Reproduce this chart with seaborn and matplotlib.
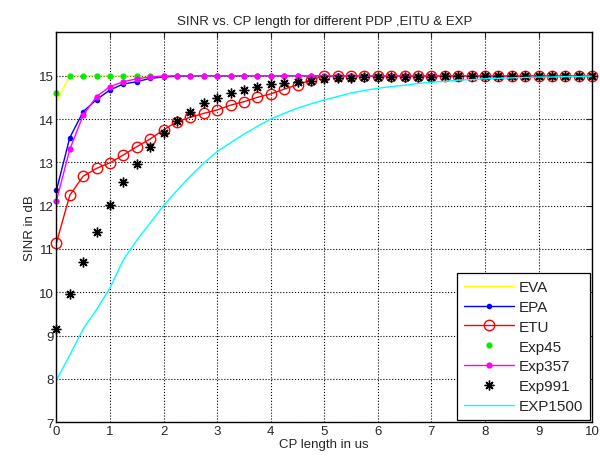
import numpy as np
import pandas as pd
import matplotlib
matplotlib.use("Agg")
import matplotlib.pyplot as plt
import seaborn as sns

# CP length grid (us)
cp = np.arange(0, 10.01, 0.25)

# SINR values (dB)
eva = [14.4] + [15.0] * 40
epa = [12.35, 13.57, 14.17, 14.45, 14.67, 14.81, 14.86, 14.94, 14.97, 14.99] + [15.0] * 31
etu = [11.14, 12.24, 12.68, 12.86, 12.99, 13.17, 13.36, 13.54, 13.75, 13.94,
       14.04, 14.13, 14.21, 14.32, 14.40, 14.50, 14.58, 14.69, 14.79, 14.90] + [15.0] * 21
exp45 = [14.6] + [15.0] * 40
exp357 = [12.11, 13.30, 14.09, 14.52, 14.75, 14.86, 14.93, 14.97, 14.99] + [15.0] * 32
exp991 = [9.14, 9.96, 10.70, 11.38, 12.01, 12.55, 12.96, 13.36, 13.67, 13.95,
          14.17, 14.36, 14.48, 14.59, 14.67, 14.73, 14.80, 14.84, 14.86, 14.88,
          14.92, 14.94, 14.94, 14.96, 14.97, 14.97, 14.98, 14.98, 14.98, 14.99,
          14.99, 14.99, 14.99, 15.0, 15.0, 15.0, 15.0, 15.0, 15.0, 15.0, 15.0]
exp1500 = [7.97, 8.55, 9.15, 9.6, 10.1, 10.75, 11.2, 11.6, 12.0, 12.35,
           12.68, 12.98, 13.25, 13.45, 13.65, 13.83, 14.0, 14.13, 14.25, 14.35,
           14.44, 14.52, 14.6, 14.66, 14.71, 14.75, 14.78, 14.82, 14.85, 14.87,
           14.9, 14.91, 14.93, 14.94, 14.95, 14.96, 14.97, 14.97, 14.98, 14.98, 14.99]

sns.set_style("white")
plt.rcParams["font.family"] = ["Liberation Sans", "DejaVu Sans"]

fig = plt.figure(figsize=(6, 4.64), dpi=100)
ax = fig.add_axes([0.094, 0.088, 0.893, 0.84])

sns.lineplot(x=cp, y=eva, ax=ax, color="yellow", lw=1, label="EVA")
sns.lineplot(x=cp, y=epa, ax=ax, color="blue", lw=1, marker="o", ms=4,
             mec="blue", mew=0, label="EPA", clip_on=False)
sns.lineplot(x=cp, y=etu, ax=ax, color="red", lw=1, marker="o", ms=7.5,
             mfc="none", mec="red", mew=1, label="ETU", clip_on=False)
sns.lineplot(x=cp, y=exp45, ax=ax, color="#00ee00", lw=0, marker="o", ms=4.5,
             mec="#00ee00", mew=0, label="Exp45", clip_on=False)
sns.lineplot(x=cp, y=exp357, ax=ax, color="magenta", lw=1, marker="o", ms=4.5,
             mec="magenta", mew=0, label="Exp357", clip_on=False)
sns.lineplot(x=cp, y=exp991, ax=ax, color="black", lw=0, marker=(8, 2, 0), ms=7,
             mec="black", mew=1.0, label="Exp991", clip_on=False)
sns.lineplot(x=cp, y=exp1500, ax=ax, color="cyan", lw=1, label="EXP1500")

ax.set_xlim(0, 10)
ax.set_ylim(7, 16)
ax.set_xticks(range(0, 11))
ax.set_yticks(range(7, 16))
ax.tick_params(direction="in", top=True, right=True, labelsize=9.5, length=4, pad=2)
ax.grid(True, color="black", linestyle=":", linewidth=0.8)
for s in ax.spines.values():
    s.set_color("black")
    s.set_linewidth(1)
    s.set_zorder(5)

ax.set_title("SINR vs. CP length for different PDP ,EITU & EXP", fontsize=9.5)
ax.set_xlabel("CP length in us", fontsize=9.5, labelpad=1)
ax.set_ylabel("SINR in dB", fontsize=9.5, labelpad=2)

leg = ax.legend(loc="lower right", fontsize=11, fancybox=False, framealpha=1,
                edgecolor="black", borderaxespad=0.15, borderpad=0.45,
                handlelength=3.3, handletextpad=0.3, labelspacing=0.38)
leg.get_frame().set_linewidth(0.9)
leg.set_zorder(10)

fig.savefig("out.png", dpi=100)
